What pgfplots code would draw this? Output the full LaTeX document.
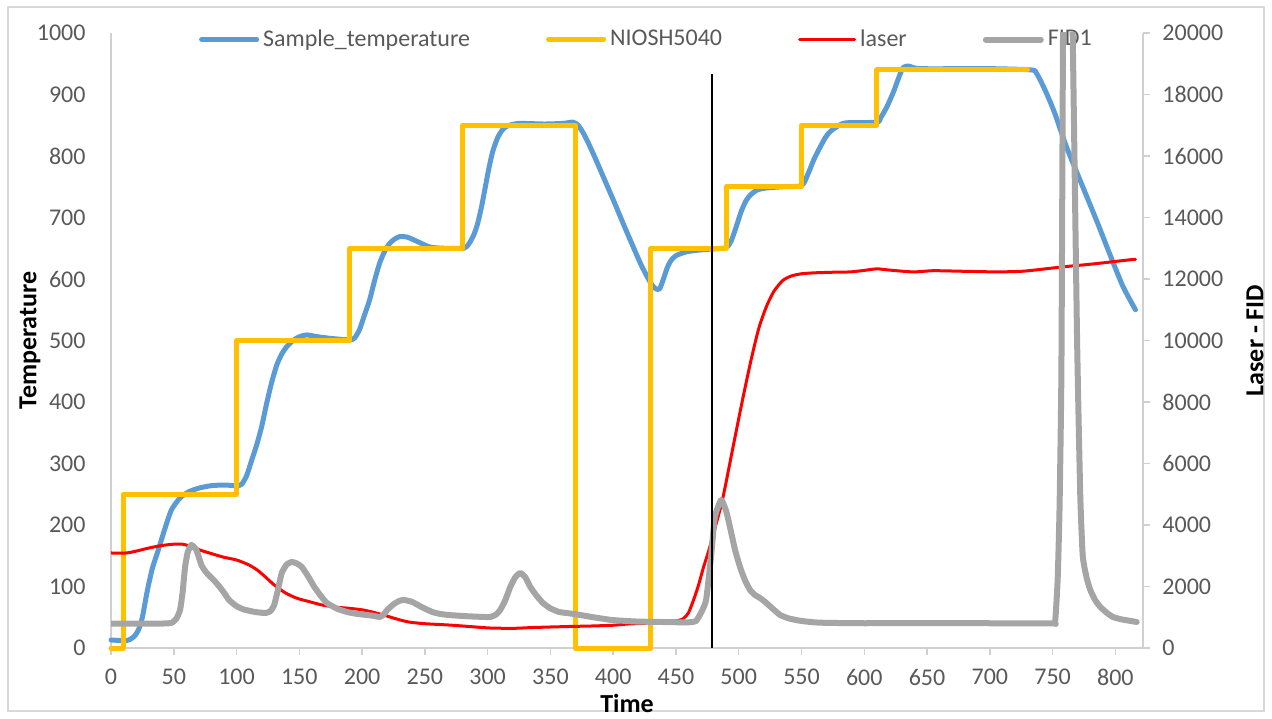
\documentclass[border=0pt]{standalone}
\usepackage{fontspec}
\setmainfont{Carlito}
\usepackage{pgfplots}
\pgfplotsset{compat=1.18}
\definecolor{tblue}{HTML}{5B9BD5}
\definecolor{tyellow}{HTML}{FFC000}
\definecolor{tred}{HTML}{FF0000}
\definecolor{tgrey}{HTML}{A5A5A5}
\definecolor{txtgrey}{HTML}{595959}
\definecolor{axgrey}{HTML}{D0D0D0}
\definecolor{bordergrey}{HTML}{D9D9D9}
\begin{document}
\begin{tikzpicture}
\path[use as bounding box] (0,0) rectangle (636pt,359pt);
\draw[bordergrey, line width=0.75pt] (4pt,3.5pt) rectangle (632pt,355.5pt);
\begin{axis}[
  at={(55.5pt,35pt)}, anchor=south west,
  scale only axis, width=516pt, height=307.5pt,
  xmin=0, xmax=822, ymin=0, ymax=1000,
  axis x line*=bottom, axis y line*=left,
  axis line style={draw=axgrey, line width=0.75pt, -},
  xtick={0,50,...,800}, ytick={0,100,...,1000},
  tick align=outside, major tick length=3.5pt,
  xtick style={draw=axgrey, line width=0.75pt},
  ytick style={draw=none},
  /pgf/number format/assume math mode=true,
  /pgf/number format/set thousands separator={},
  xticklabel style={font=\fontsize{12}{14}\selectfont, text=txtgrey, yshift=-3.5pt},
  yticklabel style={font=\fontsize{12}{14}\selectfont, text=txtgrey, xshift=-5.7pt},
  every axis x label/.style={at={(axis description cs:0.5,-0.0894)}, anchor=center, font=\fontsize{13}{15}\selectfont\bfseries},
  every axis y label/.style={at={(axis description cs:-0.0785,0.5)}, rotate=90, anchor=center, font=\fontsize{13}{15}\selectfont\bfseries},
  xlabel={Time}, ylabel={Temperature},
  clip=false,
  legend style={at={(axis description cs:0.085,0.9894)}, anchor=west, draw=none, fill=none, inner sep=0pt,
    font=\fontsize{12}{14}\selectfont, text=txtgrey,
    /tikz/every even column/.append style={column sep=36pt}},
  legend columns=-1, legend cell align=left,
  legend image code/.code={\draw[#1] (0pt,0pt) -- (27.5pt,0pt);},
]
\addplot[tblue, line width=2.5pt, line cap=round, line join=round, smooth, tension=0.4] table {
0 13
12 12
16 15
19 20
22 30
25 50
29 94
33 130
37 155
42 188
48 224
55 244
62 254
70 260
80 264
90 265
100 264
104 266
108 280
112 305
116 330
120 360
124 398
128 432
132 460
136 478
140 490
145 500
150 506
156 509
165 506
177 503
190 501
194 504
198 518
202 542
206 566
210 598
214 626
218 645
222 658
226 665
230 669
236 668
244 661
254 652
265 650
281 650
285 657
289 672
292 690
295 716
298 748
301 780
304 807
308 830
312 843
316 849
325 853
345 852
360 853
368 855
372 850
376 838
380 822
386 795
393 762
400 729
408 690
416 652
422 624
427 604
431 590
434 584
437 584
440 600
443 618
446 630
450 638
458 644
468 647
480 649
490 651
494 662
498 685
502 710
506 728
510 738
515 745
522 748
535 750
550 752
555 770
560 795
565 815
569 830
573 840
580 850
586 854
610 855
613 862
618 880
623 903
627 925
631 944
636 946
645 942
700 942
733 940
737 935
741 920
746 898
752 868
761 815
774 750
786 690
796 638
806 588
816 550
};
\addlegendentry{Sample\_temperature}
\addplot[tyellow, line width=2.5pt, line cap=round, line join=round] coordinates {
(0,0) (10,0) (10,250) (100,250) (100,500) (190,500) (190,650) (280,650) (280,850) (370,850) (370,0) (430,0) (430,650) (490,650) (490,750) (550,750) (550,850) (610,850) (610,940) (730,940)
};
\addlegendentry{NIOSH5040}
\addlegendimage{tred, line width=1.5pt, line cap=round}
\addlegendentry{laser}
\addlegendimage{tgrey, line width=3pt, line cap=round}
\addlegendentry{FID1}
\end{axis}
\begin{axis}[
  at={(55.5pt,35pt)}, anchor=south west,
  scale only axis, width=516pt, height=307.5pt,
  xmin=0, xmax=822, ymin=0, ymax=20000,
  axis y line*=right, axis x line=none,
  axis line style={draw=axgrey, line width=0.75pt, -},
  ytick={0,2000,...,20000},
  tick align=outside, major tick length=3.5pt,
  ytick style={draw=axgrey, line width=0.75pt},
  scaled y ticks=false,
  /pgf/number format/assume math mode=true,
  yticklabel style={font=\fontsize{12}{14}\selectfont, text=txtgrey, xshift=2.7pt, /pgf/number format/fixed, /pgf/number format/set thousands separator={}},
  every axis y label/.style={at={(axis description cs:1.1085,0.5)}, rotate=90, anchor=center, font=\fontsize{13}{15}\selectfont\bfseries},
  ylabel={Laser - FID},
]
\addplot[tred, line width=1.5pt, line cap=round, line join=round, smooth, tension=0.4] table {
0 3090
12 3090
20 3150
30 3250
40 3330
51 3380
58 3370
64 3290
72 3170
81 3057
90 2950
100 2863
110 2700
117 2520
123 2310
130 2050
139 1790
148 1620
159 1496
168 1400
178 1334
190 1290
201 1236
210 1150
217 1073
227 950
237 846
250 790
269 748
285 700
302 650
321 640
335 665
350 683
365 700
383 716
400 740
412 781
425 800
440 830
450 870
456 960
460 1150
464 1561
468 2050
472 2635
476 3150
480 3741
487 4814
495 6441
503 8067
510 9400
516 10400
522 11100
528 11600
535 11950
542 12100
550 12170
560 12200
575 12220
589 12231
600 12280
610 12330
620 12290
639 12231
655 12270
680 12250
706 12231
725 12250
737 12296
758 12394
775 12460
790 12524
811 12622
816 12640
};
\addplot[tgrey, line width=3pt, line cap=round, line join=round, smooth, tension=0.3] table {
0 790
20 790
40 795
48 815
52 950
55 1236
57 1800
59 2635
61 3100
64 3350
68 3188
72 2700
76 2450
84 2114
90 1800
94 1561
100 1360
106 1250
115 1170
123 1138
127 1200
130 1400
133 1900
136 2440
140 2720
144 2798
148 2750
152 2635
157 2330
162 1984
167 1700
172 1464
180 1280
188 1171
196 1110
204 1073
210 1040
214 1008
217 1080
220 1236
225 1420
230 1540
234 1560
240 1496
248 1320
256 1171
262 1110
269 1073
285 1030
302 1008
307 1100
310 1236
314 1550
318 1984
322 2300
326 2440
330 2300
334 1984
339 1700
344 1464
350 1290
357 1171
370 1100
383 1008
399 911
419 860
440 845
455 835
462 840
466 880
470 1150
474 1561
478 3000
481 4261
486 4814
490 4450
493 3936
497 3200
501 2635
505 2200
509 1887
513 1720
517 1626
522 1464
527 1280
533 1073
540 960
549 885
560 835
570 818
600 805
647 813
700 805
750 800
752 846
754 2200
755.5 4500
757 9000
758.3 20000
760.5 34000
763 28000
766 20000
769.5 10000
772 5000
774 3000
777 2300
780 1887
784 1550
788 1334
793 1150
798 1008
805 930
812 880
817 846
};
\addplot[black, line width=1pt, forget plot] coordinates {(479,0) (479,18670)};
\end{axis}
\end{tikzpicture}
\end{document}
